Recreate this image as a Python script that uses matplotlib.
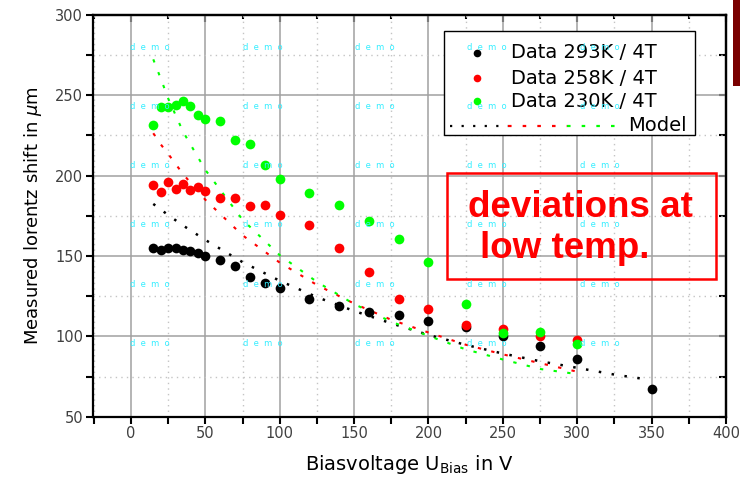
from __future__ import annotations

import matplotlib

matplotlib.use("Agg")
import matplotlib.pyplot as plt
from matplotlib.patches import Rectangle
from matplotlib.ticker import MultipleLocator

# measured lorentz shift (um) vs bias voltage (V)
volt_data = [15, 20, 25, 30, 35, 40, 45, 50, 60, 70, 80, 90, 100, 120, 140, 160,
             180, 200, 225, 250, 275, 300]
volt_293 = volt_data + [350]
shift_293 = [155, 154, 155, 155, 154, 153, 152, 150, 147.5, 143.5, 137, 133, 130,
             123.5, 119, 115, 113.5, 109.5, 106, 100.5, 94, 86, 67]
shift_258 = [194, 190, 196, 192, 195, 191, 193, 190.5, 186, 186, 181, 181.5, 175.5,
             169, 155, 140, 123, 117, 107, 104.5, 100, 98]
shift_230 = [231.5, 242.5, 242.5, 244, 246.5, 243.5, 238, 235, 234, 222, 219.5,
             206.5, 198, 189, 182, 171.5, 160.5, 146, 120, 102, 103, 95.5]

# model curves
volt_model = [15, 20, 25, 35, 50, 75, 100, 125, 150, 175, 200, 225, 250, 275, 300]
volt_model_293 = volt_model + [325, 347]
model_293 = [182.4, 179, 175.5, 169, 160, 146.2, 134.6, 124.4, 115.8, 108.1, 100.9,
             94.7, 89.3, 84.5, 80.4, 76.2, 73.2]
model_258 = [226.4, 219.5, 213.6, 201, 185, 162.9, 145.9, 132, 120.4, 110.3, 102.4,
             94.8, 88.8, 83.3, 78]
model_230 = [272.4, 260.5, 248.1, 227.4, 203.6, 172.6, 150.5, 133.9, 120.1, 109.1,
             100.3, 91.9, 85.6, 79.7, 76.5]

labels = ["Data 293K / 4T", "Data 258K / 4T", "Data 230K / 4T"]
colors = ["#000000", "#ff0000", "#00ff00"]

plt.rcParams["font.family"] = ["DejaVu Sans"]

fig = plt.figure(figsize=(7.4, 4.82), dpi=100)
ax = fig.add_axes([0.1257, 0.1355, 0.8554, 0.8334])

ax.set_xlim(-25.5, 400)
ax.set_ylim(50, 300)
ax.xaxis.set_major_locator(MultipleLocator(50))
ax.xaxis.set_minor_locator(MultipleLocator(25))
ax.yaxis.set_major_locator(MultipleLocator(50))
ax.yaxis.set_minor_locator(MultipleLocator(25))
ax.grid(which="major", color="#a0a0a0", lw=1.1, ls="-", zorder=0)
ax.grid(which="minor", color="#c4c4c4", lw=1.0, ls=(0, (1, 3)), zorder=0)
ax.set_axisbelow(True)
ax.tick_params(which="both", direction="out", length=5, width=1.5,
               labelsize=10.5, labelcolor="#404040", pad=2)
for sp in ax.spines.values():
    sp.set_linewidth(1.6)

for side in ("top", "right"):
    sec = ax.secondary_xaxis("top") if side == "top" else ax.secondary_yaxis("right")
    axis = sec.xaxis if side == "top" else sec.yaxis
    axis.set_major_locator(MultipleLocator(50))
    axis.set_minor_locator(MultipleLocator(25))
    sec.tick_params(which="major", direction="in", length=5, width=1.5)
    sec.tick_params(which="minor", direction="in", length=3 if side == "top" else 5,
                    width=1.5)
    sec.tick_params(which="both", labeltop=False, labelright=False)
    for sp in sec.spines.values():
        sp.set_linewidth(1.6)

# model lines
ax.plot(volt_model_293, model_293, color=colors[0], lw=1.8, dashes=(1, 4.2), zorder=2)
ax.plot(volt_model, model_258, color=colors[1], lw=1.5, dashes=(1.6, 5), zorder=2)
ax.plot(volt_model, model_230, color=colors[2], lw=1.5, dashes=(1.6, 5), zorder=2)

# data points
for v, s, c in zip([volt_293, volt_data, volt_data], [shift_293, shift_258, shift_230], colors):
    ax.plot(v, s, "o", color=c, ms=7, mec="none", zorder=3)

ax.set_xlabel(r"Biasvoltage U$_{\mathrm{Bias}}$ in V", fontsize=14, labelpad=8)
ax.set_ylabel(r"Measured lorentz shift in $\mu$m", fontsize=13, labelpad=8)

# legend box (hand-built, like the original)
tr = ax.transAxes
ax.add_patch(Rectangle((0.5545, 0.7023), 0.3965, 0.2589, transform=tr,
                       facecolor="white", edgecolor="black", lw=1, zorder=5))
for lab, c, fy in zip(labels, colors, [0.9054, 0.8431, 0.7858]):
    ax.plot([0.6066], [fy], "o", color=c, ms=5.5, mec="none", transform=tr, zorder=6)
    ax.text(0.6603, fy, lab, transform=tr, fontsize=14, va="center", ha="left", zorder=6)
seg_x = [0.564, 0.6556, 0.7488, 0.8341]
for i, (c, d) in enumerate(zip(colors, [(1, 4.2), (1.6, 5), (1.6, 5)])):
    ax.plot(seg_x[i:i + 2], [0.7237, 0.7237], color=c, lw=1.6, dashes=d,
            transform=tr, zorder=6)
ax.text(0.8452, 0.7237, "Model", transform=tr, fontsize=14, va="center", ha="left", zorder=6)

# annotation
ax.add_patch(Rectangle((0.5592, 0.3428), 0.425, 0.2639, transform=tr,
                       facecolor="none", edgecolor="#ff0000", lw=1.8, zorder=5))
ax.text(0.5924, 0.4971, "deviations at", transform=tr, color="#ff0000", fontsize=26.5,
        fontweight="bold", family=["Liberation Sans", "DejaVu Sans"],
        ha="left", va="baseline", zorder=6)
ax.text(0.6114, 0.3950, "low temp.", transform=tr, color="#ff0000", fontsize=26.5,
        fontweight="bold", family=["Liberation Sans", "DejaVu Sans"],
        ha="left", va="baseline", zorder=6)

# demo watermark tiles
for i in range(5):
    for j in range(6):
        ax.text(0.0585 + i * 0.1777, 0.9179 - j * 0.1469, "d  e  m  o", transform=tr,
                color="#33eeff", fontsize=6, ha="left", va="center", zorder=7)

# slide decoration at the right edge
fig.patches.append(Rectangle((0.9905, 0.822), 0.02, 0.2, transform=fig.transFigure,
                             facecolor="#7a0000", edgecolor="none"))

fig.savefig("out.png", dpi=100)
